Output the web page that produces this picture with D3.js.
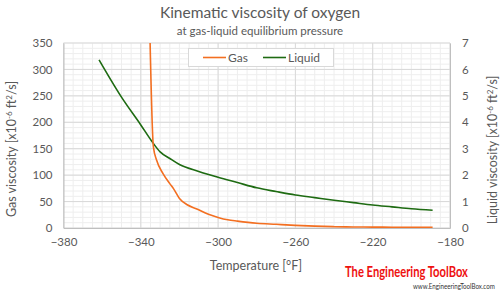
<!DOCTYPE html>
<html>
<head>
<meta charset="utf-8">
<script src="https://cdn.jsdelivr.net/npm/d3@7"></script>
<style>
  body { margin: 0; background: #fff; }
  text { font-family: Lato, "Open Sans", sans-serif; fill: #595959; }
</style>
</head>
<body>
<div id="chart"></div>
<script>
// values
const gasTemp = [-335.6, -333.5, -331.8, -328.5, -325, -323, -320, -316, -311, -305, -300, -295, -290, -280, -270, -260, -250, -240, -230, -220, -210, -200, -189];
const gasVisc = [420, 154, 128, 103, 84, 74, 56, 44, 36, 26, 20, 15.5, 13, 9, 7, 5, 3.5, 2.5, 2, 1.7, 1.5, 1.3, 1.2];
const liqTemp = [-361.6, -350, -340, -334, -330, -325, -320, -310, -300, -290, -280, -270, -260, -250, -240, -230, -220, -210, -200, -189];
const liqVisc = [6.36, 4.95, 3.9, 3.25, 2.88, 2.63, 2.4, 2.14, 1.92, 1.72, 1.52, 1.38, 1.25, 1.15, 1.05, 0.96, 0.87, 0.8, 0.73, 0.67];
const xTicks = [-380, -340, -300, -260, -220, -180];
const gasTicks = [0, 50, 100, 150, 200, 250, 300, 350];
const liqTicks = [0, 1, 2, 3, 4, 5, 6, 7];

const W = 500, H = 291,
  margin = {left: 63.5, right: 50, top: 43, bottom: 63},
  GAS_COLOR = "#f36f21",
  LIQ_COLOR = "#1e6b12";

const svg = d3.select("#chart").append("svg")
  .attr("width", W)
  .attr("height", H);

const x = d3.scaleLinear().domain([-380, -180]).range([margin.left, W - margin.right]),
  yGas = d3.scaleLinear().domain([0, 350]).range([H - margin.bottom, margin.top]),
  yLiq = d3.scaleLinear().domain([0, 7]).range([H - margin.bottom, margin.top]);

// minor grid
const grid = svg.append("g");
grid.selectAll(".vminor")
  .data(d3.range(-380, -179, 5))
  .enter().append("line")
  .attr("x1", d => x(d)).attr("x2", d => x(d))
  .attr("y1", yGas(0)).attr("y2", yGas(350))
  .attr("stroke", "#eeeeee").attr("stroke-width", 1);
grid.selectAll(".hminor")
  .data(d3.range(0, 351, 10))
  .enter().append("line")
  .attr("x1", x(-380)).attr("x2", x(-180))
  .attr("y1", d => yGas(d)).attr("y2", d => yGas(d))
  .attr("stroke", "#eeeeee").attr("stroke-width", 1);

// major grid
grid.selectAll(".vmajor")
  .data(xTicks)
  .enter().append("line")
  .attr("x1", d => x(d)).attr("x2", d => x(d))
  .attr("y1", yGas(0)).attr("y2", yGas(350))
  .attr("stroke", "#d9d9d9").attr("stroke-width", 1);
grid.selectAll(".hmajor")
  .data(gasTicks)
  .enter().append("line")
  .attr("x1", x(-380)).attr("x2", x(-180))
  .attr("y1", d => yGas(d)).attr("y2", d => yGas(d))
  .attr("stroke", "#d9d9d9").attr("stroke-width", 1);

// axes
const xAxis = svg.append("g")
  .attr("transform", `translate(0,${yGas(0)})`)
  .call(d3.axisBottom(x).tickValues(xTicks).tickSize(0).tickPadding(10));
const yAxisL = svg.append("g")
  .attr("transform", `translate(${x(-380)},0)`)
  .call(d3.axisLeft(yGas).tickValues(gasTicks).tickSize(0).tickPadding(11));
const yAxisR = svg.append("g")
  .attr("transform", `translate(${x(-180)},0)`)
  .call(d3.axisRight(yLiq).tickValues(liqTicks).tickFormat(d3.format("d")).tickSize(0).tickPadding(12));

[xAxis, yAxisL, yAxisR].forEach(a => {
  a.select(".domain").attr("stroke", "#bfbfbf");
  a.selectAll("text").attr("font-size", 11.5).attr("fill", "#595959")
    .attr("font-family", "Lato, 'Open Sans', sans-serif");
});

// clip to plot area
svg.append("clipPath").attr("id", "plot")
  .append("rect")
  .attr("x", x(-380)).attr("y", yGas(350))
  .attr("width", x(-180) - x(-380)).attr("height", yGas(0) - yGas(350));

const gasLine = d3.line().curve(d3.curveMonotoneX).x((d, i) => x(gasTemp[i])).y(d => yGas(d)),
  liqLine = d3.line().curve(d3.curveMonotoneX).x((d, i) => x(liqTemp[i])).y(d => yLiq(d));

svg.append("path")
  .attr("clip-path", "url(#plot)")
  .attr("d", liqLine(liqVisc))
  .attr("fill", "none").attr("stroke", LIQ_COLOR).attr("stroke-width", 1.6);
svg.append("path")
  .attr("clip-path", "url(#plot)")
  .attr("d", gasLine(gasVisc))
  .attr("fill", "none").attr("stroke", GAS_COLOR).attr("stroke-width", 1.6);

// legend
const legend = svg.append("g");
legend.append("rect")
  .attr("x", 188.5).attr("y", 48.5).attr("width", 145).attr("height", 18)
  .attr("fill", "#fff").attr("stroke", "#d9d9d9");
[["Gas", GAS_COLOR, 203], ["Liquid", LIQ_COLOR, 263]].forEach(([name, col, lx]) => {
  legend.append("line")
    .attr("x1", lx).attr("x2", lx + 23).attr("y1", 57.5).attr("y2", 57.5)
    .attr("stroke", col).attr("stroke-width", 1.6);
  legend.append("text")
    .attr("x", lx + 25).attr("y", 61.5)
    .attr("font-size", 12)
    .text(name);
});

// titles
svg.append("text")
  .attr("x", 260).attr("y", 18)
  .attr("text-anchor", "middle").attr("font-size", 15.5)
  .text("Kinematic viscosity of oxygen");
svg.append("text")
  .attr("x", 260).attr("y", 35)
  .attr("text-anchor", "middle").attr("font-size", 11.5)
  .text("at gas-liquid equilibrium pressure");
svg.append("text")
  .attr("x", 256).attr("y", 270)
  .attr("text-anchor", "middle").attr("font-size", 12.5)
  .text("Temperature [°F]");

function unitTitle(sel, label) {
  sel.append("tspan").text(label + "  [x10");
  sel.append("tspan").attr("dy", -4).attr("font-size", 8).text("-6");
  sel.append("tspan").attr("dy", 4).text(" ft");
  sel.append("tspan").attr("dy", -4).attr("font-size", 8).text("2");
  sel.append("tspan").attr("dy", 4).text("/s]");
}
svg.append("text")
  .attr("transform", "translate(16,149) rotate(-90)")
  .attr("text-anchor", "middle").attr("font-size", 12.5)
  .call(unitTitle, "Gas viscosity");
svg.append("text")
  .attr("transform", "translate(497,150) rotate(-90)")
  .attr("text-anchor", "middle").attr("font-size", 12.5)
  .call(unitTitle, "Liquid viscosity");

// watermark, squeezed horizontally to the reference width
function fitText(txt, x0, y0, width, size, family, weight, colour) {
  const t = svg.append("text")
    .attr("font-family", family)
    .attr("font-weight", weight).attr("font-size", size)
    .style("fill", colour)
    .text(txt);
  const w = t.node().getComputedTextLength();
  t.attr("transform", `translate(${x0},${y0}) scale(${width / w},1)`);
}
fitText("The Engineering ToolBox", 345, 277, 123, 15, "'DejaVu Sans Condensed', 'Liberation Sans Narrow', sans-serif", "bold", "#ee1111");
fitText("www.EngineeringToolBox.com", 413, 289, 82, 7, "'Liberation Sans', sans-serif", "normal", "#333");
</script>
</body>
</html>
